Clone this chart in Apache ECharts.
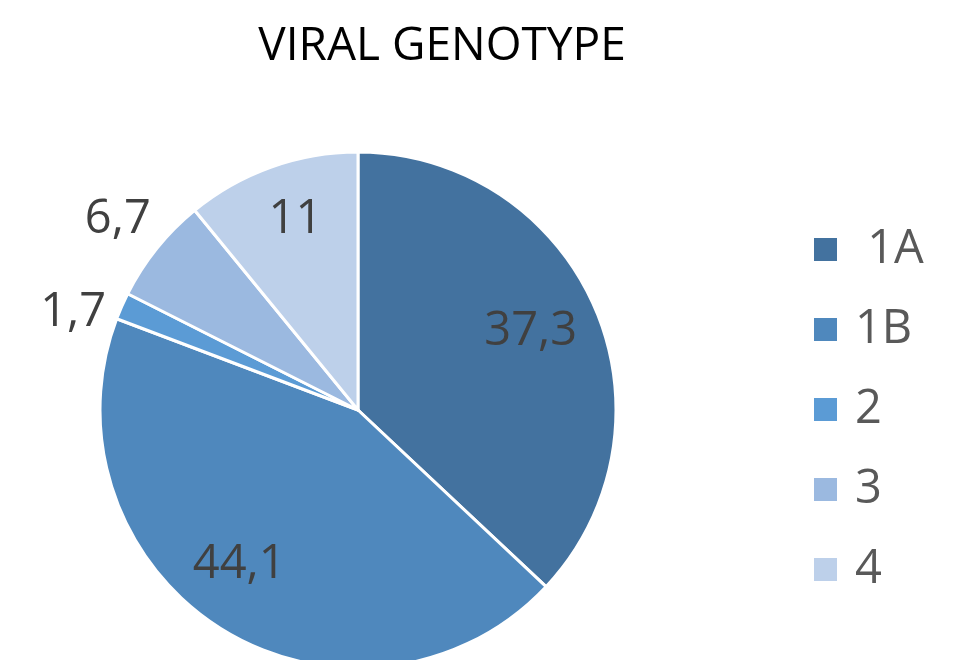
<!DOCTYPE html>
<html>
<head>
<meta charset="utf-8">
<script src="https://cdn.jsdelivr.net/npm/echarts@6/dist/echarts.min.js"></script>
<style>
  html, body { margin: 0; padding: 0; background: #fff; }
  #main { width: 958px; height: 660px; }
</style>
</head>
<body>
<div id="main"></div>
<script>
var genotypes = ['1A', '1B', '2', '3', '4'];
var percents = [37.3, 44.1, 1.7, 6.7, 11];
var labelTexts = ['37,3', '44,1', '1,7', '6,7', '11'];
var colors = ['#43729f', '#4f88bd', '#5b9bd5', '#9bb9e0', '#bdd0ea'];
var outerLabels = ['2', '3'];

var myChart = echarts.init(document.getElementById('main'));
var font = '"Open Sans", "Noto Sans", sans-serif';
// small nudges so labels sit where the original put them
var nudge = { '1A': [-9, 0], '1B': [-14, -13], '2': [-3, 27], '3': [0, 2], '4': [4, -4] };

function labelData(outer) {
  return genotypes.map(function (g, i) {
    var isOuter = outerLabels.indexOf(g) >= 0;
    return {
      name: g,
      value: percents[i],
      label: { show: outer ? isOuter : !isOuter, formatter: labelTexts[i], offset: nudge[g] }
    };
  });
}

var labelSeries = {
  type: 'pie',
  center: [358, 410],
  silent: true,
  legendHoverLink: false,
  itemStyle: { color: 'rgba(0,0,0,0)' },
  label: { position: 'inside', color: '#404040', fontSize: 47, fontFamily: font },
  labelLine: { show: false },
  emphasis: { disabled: true }
};

myChart.setOption({
  animation: false,
  title: {
    text: 'VIRAL GENOTYPE',
    left: 437,
    textAlign: 'center',
    top: 19,
    textStyle: { color: '#000', fontSize: 46, fontWeight: 'normal', fontFamily: font }
  },
  legend: {
    orient: 'vertical',
    left: 807,
    top: 221,
    itemWidth: 25,
    itemHeight: 25,
    itemGap: 33,
    icon: 'rect',
    data: genotypes,
    formatter: function (n) { return n === '1A' ? ' 1A' : n; },
    textStyle: { color: '#595959', fontSize: 47, lineHeight: 40, fontFamily: font, padding: [0, 0, 0, 12] }
  },
  series: [
    {
      type: 'pie',
      center: [358, 410],
      radius: 258,
      data: genotypes.map(function (g, i) {
        return { name: g, value: percents[i], itemStyle: { color: colors[i] } };
      }),
      itemStyle: { borderColor: '#fff', borderWidth: 3 },
      label: { show: false },
      labelLine: { show: false }
    },
    Object.assign({ radius: [0, 390], data: labelData(false) }, labelSeries),
    Object.assign({ radius: [0, 610], data: labelData(true) }, labelSeries)
  ]
});
</script>
</body>
</html>
